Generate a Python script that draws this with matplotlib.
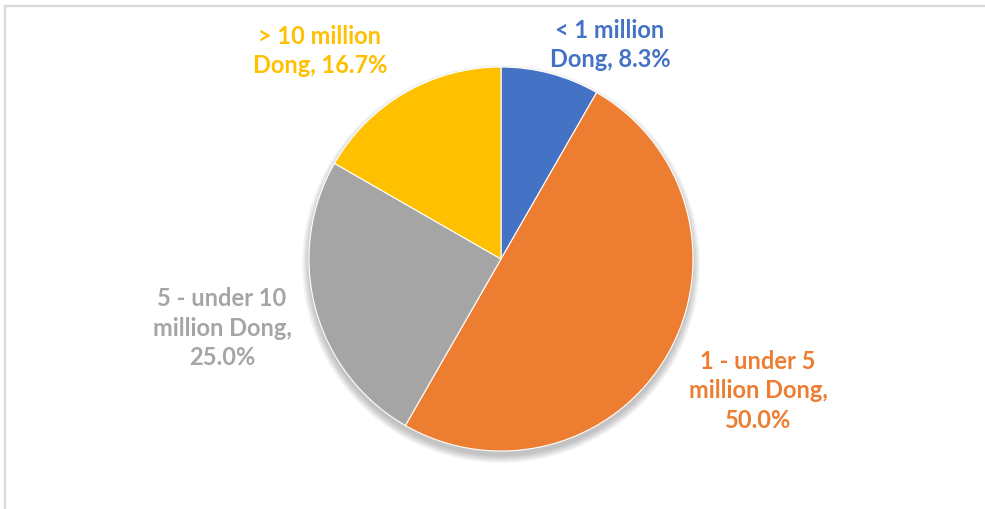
import matplotlib
matplotlib.use("Agg")
import matplotlib.pyplot as plt
from matplotlib.patches import Rectangle, Circle

categories = ["< 1 million\nDong", "1 - under 5\nmillion Dong", "5 - under 10\nmillion Dong", "> 10 million\nDong"]
shares = [8.3, 50.0, 25.0, 16.7]
colors = ["#4472C4", "#ED7D31", "#A5A5A5", "#FFC000"]

W, H = 985, 509
fig = plt.figure(figsize=(W / 100, H / 100), dpi=100)
ax = fig.add_axes([0, 0, 1, 1])
ax.set_xlim(0, W)
ax.set_ylim(0, H)
ax.set_aspect("equal")
ax.axis("off")

# chart frame
ax.add_patch(Rectangle((5, -20), W + 40, H - 6 + 20, fill=False,
                       edgecolor="#D9D9D9", linewidth=1.6, zorder=0))

cx, cy, r = 501, H - 259, 192

# soft drop shadow beneath the pie
for i in range(8):
    ax.add_patch(Circle((cx, cy - 5), r + 7 - i * 1.0, facecolor="#000000",
                        alpha=0.03, edgecolor="none", zorder=1))

ax.pie(shares, colors=colors, startangle=90, counterclock=False,
       center=(cx, cy), radius=r, frame=True,
       wedgeprops=dict(edgecolor="white", linewidth=0.8, zorder=2))
ax.set_xlim(0, W)
ax.set_ylim(0, H)
ax.axis("off")

# data labels
label_pos = [(610, 45), (758, 391), (222, 328), (320, 51)]
for cat, val, col, (lx, ly) in zip(categories, shares, colors, label_pos):
    if cat.startswith("5 - ") or cat.startswith("1 - "):
        txt = cat + f",\n{val:.1f}%"
    else:
        txt = f"{cat}, {val:.1f}%"
    ax.text(lx, H - ly, txt, ha="center", va="center", color=col,
            fontsize=17, fontweight="bold", family="Lato",
            linespacing=1.33, zorder=5)

fig.savefig("out.png", dpi=100)
